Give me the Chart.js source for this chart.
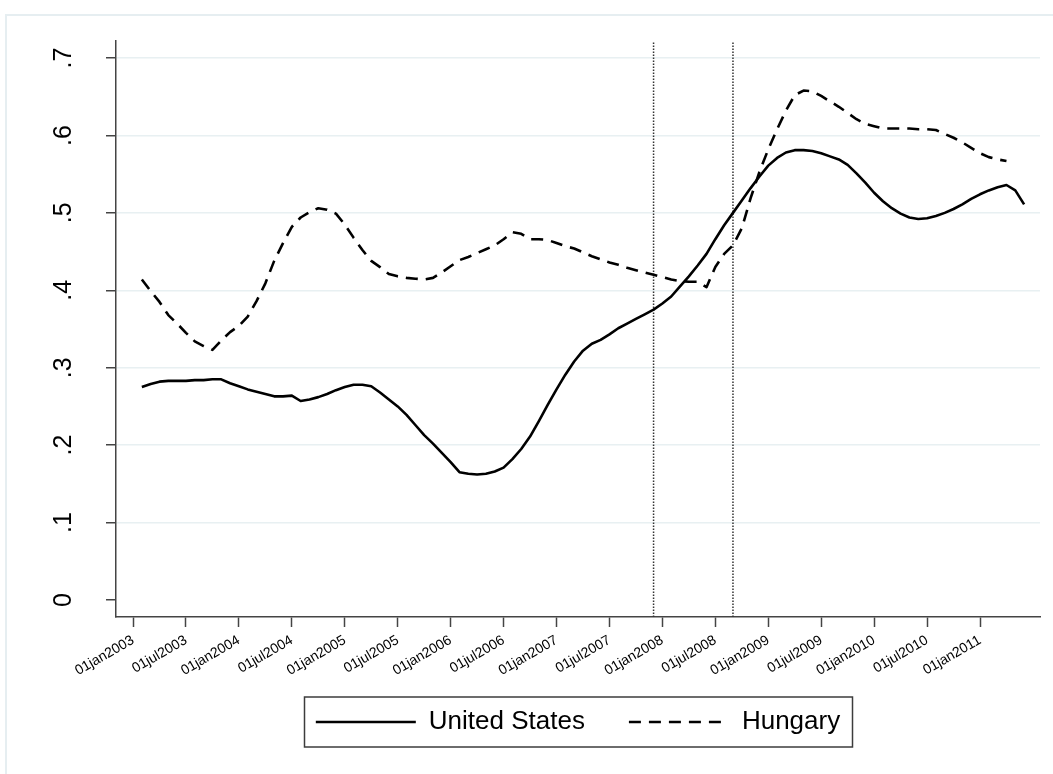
<!DOCTYPE html>
<html>
<head>
<meta charset="utf-8">
<script src="https://cdn.jsdelivr.net/npm/chart.js@4"></script>
<style>
html,body{margin:0;padding:0;background:#fff;}
#wrap{position:relative;width:1053px;height:774px;overflow:hidden;background:#fff;}
#frame{position:absolute;left:5px;top:14px;width:1100px;height:820px;border-left:2px solid #e6eef1;border-top:2px solid #e6eef1;}
#c{position:absolute;left:0;top:0;}
</style>
</head>
<body>
<div id="wrap"><div id="frame"></div><canvas id="c" width="1053" height="774"></canvas></div>
<script>
// ---- data ----
const seriesNames = ['United States', 'Hungary'];
const usStart = '2003-02';
const usValues = [
  0.275,0.279,0.282,0.283,0.283,0.283,0.284,0.284,0.285,0.285,0.280,
  0.276,0.272,0.269,0.266,0.263,0.263,0.264,0.257,0.259,0.262,0.266,0.271,
  0.275,0.278,0.278,0.276,0.268,0.259,0.250,0.239,0.226,0.213,0.202,0.190,
  0.178,0.165,0.163,0.162,0.163,0.166,0.171,0.182,0.195,0.211,0.231,0.252,
  0.272,0.291,0.308,0.322,0.331,0.336,0.343,0.351,0.357,0.363,0.369,0.375,
  0.383,0.392,0.405,0.418,0.432,0.447,0.466,0.484,0.500,0.516,0.532,0.547,
  0.561,0.571,0.578,0.581,0.581,0.580,0.577,0.573,0.569,0.562,0.551,0.539,
  0.526,0.515,0.506,0.499,0.494,0.492,0.493,0.496,0.500,0.505,0.511,0.518,
  0.524,0.529,0.533,0.536,0.529,0.511
];
const huStart = '2003-02';
const huValues = [
  0.414,0.399,0.385,0.368,0.357,0.345,0.334,0.328,0.323,0.335,0.346,
  0.354,0.366,0.386,0.409,0.438,0.461,0.482,0.494,0.501,0.506,0.504,0.499,
  0.485,0.468,0.452,0.438,0.430,0.421,0.418,0.416,0.415,0.414,0.416,0.423,
  0.431,0.439,0.443,0.448,0.453,0.458,0.466,0.475,0.473,0.466,0.466,0.465,
  0.461,0.457,0.454,0.449,0.444,0.440,0.436,0.433,0.429,0.426,0.423,0.420,
  0.417,0.414,0.412,0.411,0.411,0.404,0.430,0.447,0.458,0.480,0.519,0.553,
  0.582,0.608,0.632,0.652,0.658,0.657,0.651,0.644,0.637,0.629,0.621,0.615,
  0.612,0.609,0.609,0.609,0.609,0.608,0.608,0.607,0.602,0.597,0.591,0.584,
  0.577,0.572,0.569,0.567
];
const xTickLabels = ['01jan2003','01jul2003','01jan2004','01jul2004','01jan2005','01jul2005',
  '01jan2006','01jul2006','01jan2007','01jul2007','01jan2008','01jul2008','01jan2009',
  '01jul2009','01jan2010','01jul2010','01jan2011'];
const yTickValues = [0, 0.1, 0.2, 0.3, 0.4, 0.5, 0.6, 0.7];
const yTickLabels = ['0', '.1', '.2', '.3', '.4', '.5', '.6', '.7'];
const markerDates = ['2007-12', '2008-09'];

// ---- helpers ----
function monthIndex(s){ const p = s.split('-').map(Number); return (p[0]-2003)*12 + (p[1]-1); }
function toPoints(start, vals){ const s = monthIndex(start); return vals.map((v,i)=>({x:s+i, y:v})); }

const X_MIN = -1.93, X_MAX = 102.8, Y_MIN = -0.022, Y_MAX = 0.722;
const FONT = '"Liberation Sans", Arial, Helvetica, sans-serif';
const LEGEND_FONT = 26;
const LEGEND_PAD = 44;
const LEGEND_CENTER_Y = 722;
Chart.defaults.font.family = FONT;
Chart.defaults.color = '#000';

const markerSets = markerDates.map(d => ({
  label: '_marker',
  data: [{x: monthIndex(d), y: Y_MIN}, {x: monthIndex(d), y: Y_MAX}],
  borderColor: '#333', borderWidth: 1.5, borderDash: [1.5, 1.5],
  pointRadius: 0, fill: false, clip: false
}));

// move the legend row to the wanted height, and frame it
const legendPlace = {
  id: 'legendPlace',
  afterLayout(chart){
    const lg = chart.legend;
    if (!lg) return;
    const wantTop = LEGEND_CENTER_Y - LEGEND_FONT/2 - LEGEND_PAD;
    const dy = wantTop - lg.top;
    lg.top += dy; lg.bottom += dy;
  },
  afterDraw(chart){
    const hb = chart.legend && chart.legend.legendHitBoxes;
    if (!hb || !hb.length) return;
    const ctx = chart.ctx;
    const l = Math.min(...hb.map(h=>h.left)) - 12;
    const r = Math.max(...hb.map(h=>h.left + h.width)) + 12;
    const cy = LEGEND_CENTER_Y;
    ctx.save();
    ctx.strokeStyle = '#3c3c3c';
    ctx.lineWidth = 1.5;
    ctx.strokeRect(Math.round(l)+0.5, cy - 25, Math.round(r - l), 50);
    ctx.restore();
  }
};

new Chart(document.getElementById('c'), {
  type: 'line',
  data: {
    datasets: [
      { label: seriesNames[0], data: toPoints(usStart, usValues), borderColor: '#000', borderWidth: 2.6,
        borderDash: [], pointRadius: 0, tension: 0, borderJoinStyle: 'round', fill: false },
      { label: seriesNames[1], data: toPoints(huStart, huValues), borderColor: '#000', borderWidth: 2.6,
        borderDash: [12, 8], pointRadius: 0, tension: 0, borderJoinStyle: 'round', fill: false },
      ...markerSets
    ]
  },
  options: {
    responsive: false,
    animation: false,
    devicePixelRatio: 1,
    layout: { padding: { left: 0, top: 41, right: 13, bottom: 17 } },
    plugins: {
      tooltip: { enabled: false },
      legend: {
        position: 'bottom',
        align: 'center',
        fullSize: false,
        labels: {
          usePointStyle: true,
          pointStyleWidth: 100,
          padding: LEGEND_PAD,
          color: '#000',
          font: { size: LEGEND_FONT, family: FONT },
          generateLabels: chart => chart.data.datasets.map((ds, i) => ({
            text: ds.label, datasetIndex: i, strokeStyle: ds.borderColor, fillStyle: 'rgba(0,0,0,0)',
            lineWidth: ds.borderWidth, lineDash: ds.borderDash || [], pointStyle: 'line', hidden: false, fontColor: '#000'
          })),
          filter: item => item.text !== '_marker'
        }
      }
    },
    scales: {
      x: {
        type: 'linear', min: X_MIN, max: X_MAX,
        afterBuildTicks: s => { s.ticks = xTickLabels.map((_, i) => ({ value: i * 6 })); },
        afterFit: s => { s.height = 60; s.paddingLeft = 0; s.paddingRight = 0; },
        ticks: { autoSkip: false, minRotation: 30, maxRotation: 30, padding: 5, color: '#000',
          font: { size: 14, family: FONT }, callback: (v, i) => xTickLabels[i] },
        grid: { drawOnChartArea: false, drawTicks: true, tickLength: 10, tickColor: '#444', tickWidth: 1.5 },
        border: { display: true, color: '#444', width: 1.5 }
      },
      y: {
        min: Y_MIN, max: Y_MAX,
        afterBuildTicks: s => { s.ticks = yTickValues.map(v => ({ value: v })); },
        afterFit: s => { s.width = 116; s.paddingTop = 0; s.paddingBottom = 0; },
        ticks: { minRotation: 90, maxRotation: 90, crossAlign: 'center', padding: 31, color: '#000',
          font: { size: 25, family: FONT }, callback: (v, i) => yTickLabels[i] },
        grid: { color: c => (c.tick && c.tick.value === 0) ? 'rgba(0,0,0,0)' : '#e8f0f2', lineWidth: 1.5,
          drawTicks: true, tickLength: 10, tickColor: '#444', tickWidth: 1.5 },
        border: { display: true, color: '#444', width: 1.5 }
      }
    }
  },
  plugins: [legendPlace]
});
</script>
</body>
</html>
